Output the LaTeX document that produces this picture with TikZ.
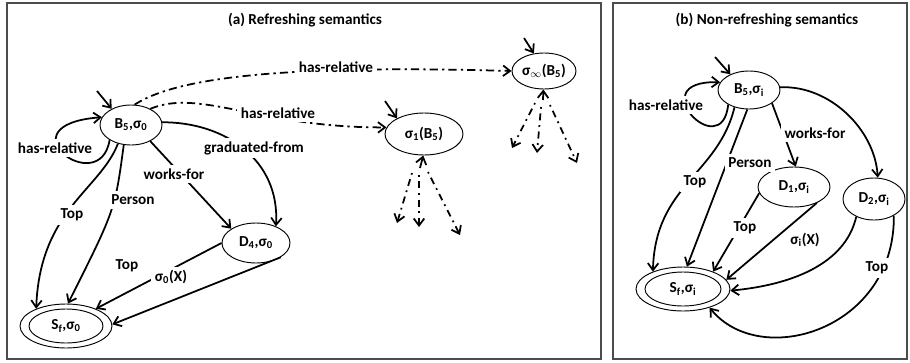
\documentclass[tikz,border=0pt]{standalone}
\usepackage{fontspec}
\setmainfont{Carlito}
\newcommand{\low}[1]{\textsubscript{#1}}
\usepackage{tikz}
\usetikzlibrary{arrows.meta}
\usetikzlibrary{shapes.geometric}
\tikzset{
    state/.style={ellipse, draw, line width=0.8pt, inner sep=0pt},
    wh/.style 2 args={minimum width=#1*0.3mm, minimum height=#2*0.3mm},
    lbl/.style={fill=white, inner sep=3pt},
    arr/.style={line width=1.5pt, -{Straight Barb[length=6pt, width=9pt]}},
    dashdot/.style={arr, dash pattern=on 7pt off 3.5pt on 2pt off 3.5pt},
    dotdash/.style={arr, dash pattern=on 1.5pt off 4pt on 6pt off 4pt},
    panel/.style={draw=black!70, line width=1pt}
}

\begin{document}
\begin{tikzpicture}[x=0.3mm, y=-0.3mm, % pixel grid, y down
    font=\fontsize{13}{15}\selectfont\bfseries]

      \useasboundingbox (0,0) rectangle (910,362);

      \draw [panel] (7,3) rectangle (601,359);
      \draw [panel] (613,3) rectangle (907,359);

      \node (title-a) at (305,20) {(a) Refreshing semantics};
      \node (title-b) at (767,20) {(b) Non-refreshing semantics};

      % (a) refreshing
      \node [state, wh={62}{40}] (B5a) at (131,125) {B\low{5},σ\low{0}};
      \node [state, wh={78}{42}] (s1) at (424,134) {σ\low{1}(B\low{5})};
      \node [state, wh={64}{36}] (sinf) at (544,71) {σ\low{$\infty$}(B\low{5})};
      \node [state, wh={68}{40}] (D4) at (256,243) {D\low{4},σ\low{0}};
      \node [state, wh={92}{44}] (Sfa) at (66,326) {};
      \node [state, wh={74}{34}] (Sfa-in) at (Sfa) {S\low{f},σ\low{0}};

      \coordinate (in-B5a) at (97,91);
      \coordinate (in-s1) at (385,101);
      \coordinate (in-sinf) at (524,38);
      \coordinate (up-s1) at (420,168);
      \coordinate (up-sinf) at (543,100);

      \draw [arr] (in-B5a) -- (B5a.140);
      \draw [arr] (B5a.215) .. controls (100,200) and (0,125) .. (B5a.165);
      \draw [arr] (B5a.235) .. controls (100,190) and (40,210) .. (Sfa.150);
      \draw [arr] (B5a.250) .. controls (115,210) .. (Sfa.85);
      \draw [arr] (B5a.-40) -- (D4.150);
      \draw [arr] (B5a.5) .. controls (225,122) and (280,160) .. (D4.40);
      \draw [dashdot] (B5a.80) .. controls (180,75) and (300,65) .. (sinf.west);
      \draw [dashdot] (B5a.40) .. controls (200,88) and (260,128) .. (s1.170);
      \draw [arr] (D4.west) -- (Sfa.30);
      \draw [arr] (D4.-30) -- (Sfa.2);

      \draw [arr] (in-s1) -- (s1.150);
      \draw [arr] (in-sinf) -- (sinf.120);
      \draw [arr] (up-s1) -- (s1.268);
      \draw [arr] (up-sinf) -- (sinf.268);

      \coordinate (s1-l0) at (412,173);
      \coordinate (s1-l1) at (397,223);
      \coordinate (s1-m0) at (419,175);
      \coordinate (s1-m1) at (419,227);
      \coordinate (s1-r0) at (428,172);
      \coordinate (s1-r1) at (460,235);
      \draw [dotdash] (s1-l0) -- (s1-l1);
      \draw [dotdash] (s1-m0) -- (s1-m1);
      \draw [dotdash] (s1-r0) -- (s1-r1);

      \coordinate (sinf-l0) at (535,103);
      \coordinate (sinf-l1) at (512,148);
      \coordinate (sinf-m0) at (541,107);
      \coordinate (sinf-m1) at (537,153);
      \coordinate (sinf-r0) at (550,105);
      \coordinate (sinf-r1) at (577,163);
      \draw [dotdash] (sinf-l0) -- (sinf-l1);
      \draw [dotdash] (sinf-m0) -- (sinf-m1);
      \draw [dotdash] (sinf-r0) -- (sinf-r1);

      \node [lbl] (hr-inf) at (336,67) {has-relative};
      \node [lbl] (hr-s1) at (278,113) {has-relative};
      \node [lbl] (hr-a) at (55,148) {has-relative};
      \node [lbl] (grad) at (254,148) {graduated-from};
      \node [lbl] (wf-a) at (174,174) {works-for};
      \node [lbl] (person-a) at (133,200) {Person};
      \node [lbl] (top-a1) at (72,215) {Top};
      \node [lbl] (top-a2) at (127,266) {Top};
      \node [lbl] (sx-a) at (171,277) {σ\low{0}(X)};

      % (b) non-refreshing
      \node [state, wh={62}{38}] (B5b) at (749,90) {B\low{5},σ\low{i}};
      \node [state, wh={72}{40}] (D1) at (794,187) {D\low{1},σ\low{i}};
      \node [state, wh={62}{42}] (D2) at (874,199) {D\low{2},σ\low{i}};
      \node [state, wh={94}{44}] (Sfb) at (683,289) {};
      \node [state, wh={76}{34}] (Sfb-in) at (Sfb) {S\low{f},σ\low{i}};

      \coordinate (in-B5b) at (715,57);

      \draw [arr] (in-B5b) -- (B5b.140);
      \draw [arr] (B5b.215) .. controls (722,165) and (640,80) .. (B5b.165);
      \draw [arr] (B5b.230) .. controls (718,175) and (655,185) .. (Sfb.150);
      \draw [arr] (B5b.265) -- (Sfb.80);
      \draw [arr] (B5b.-30) -- (D1.85);
      \draw [arr] (B5b.5) .. controls (830,85) and (875,130) .. (D2.80);
      \draw [arr] (D1.190) -- (Sfb.30);
      \draw [arr] (D1.-35) -- (Sfb.12);
      \draw [arr] (D2.-135) .. controls (845,265) and (790,285) .. (Sfb.-2);
      \draw [arr] (D2.-40) .. controls (895,330) and (760,370) .. (Sfb.-35);

      \node [lbl] (hr-b) at (666,105) {has-relative};
      \node [lbl] (wf-b) at (815,133) {works-for};
      \node [lbl] (person-b) at (750,163) {Person};
      \node [lbl] (top-b1) at (695,182) {Top};
      \node [lbl] (top-b2) at (745,228) {Top};
      \node [lbl] (sx-b) at (805,240) {σ\low{i}(X)};
      \node [lbl] (top-b3) at (877,268) {Top};

    \end{tikzpicture}
\end{document}
